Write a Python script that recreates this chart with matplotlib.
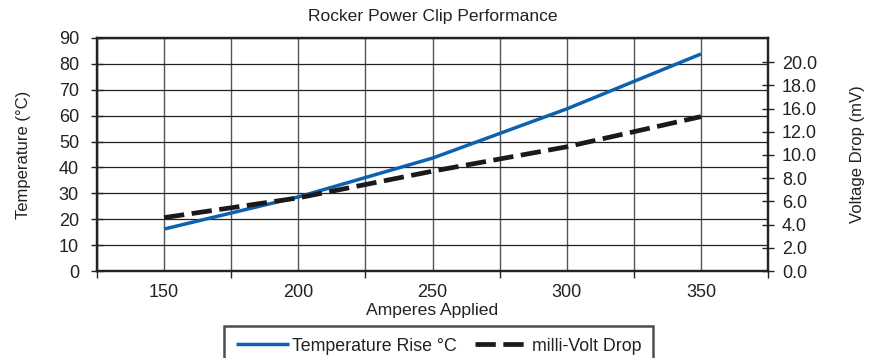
import numpy as np
import matplotlib
matplotlib.use('Agg')
import matplotlib.pyplot as plt
from matplotlib import font_manager

# data
amps = [150, 200, 250, 300, 350]
temp_rise = [16.2, 28.6, 43.6, 62.6, 83.8]
mv_drop = [4.6, 6.3, 8.6, 10.7, 13.3]  # in right-axis tick units

# right axis labels as printed (14.0 is missing in the original)
right_pos = [0, 2, 4, 6, 8, 10, 12, 14, 16, 18]
right_labels = ['0.0', '2.0', '4.0', '6.0', '8.0', '10.0', '12.0', '16.0', '18.0', '20.0']

names = {f.name for f in font_manager.fontManager.ttflist}
fam = 'Liberation Sans Narrow' if 'Liberation Sans Narrow' in names else 'Liberation Sans'
plt.rcParams['font.family'] = [fam, 'DejaVu Sans']
txt = '#222222'
blue = '#0d62b0'

fig = plt.figure(figsize=(8.7, 3.58), dpi=100)
ax = fig.add_axes([0.1115, 0.243, 0.7713, 0.651])
ax2 = ax.twinx()

ax.plot(amps, temp_rise, color=blue, lw=2.5, solid_capstyle='butt', zorder=3)
ax2.plot(amps, mv_drop, color='#1a1a1a', lw=3.4, dashes=(4.3, 1.6), zorder=3)

ax.set_xlim(125, 375)
ax.set_ylim(0, 90)
ax2.set_ylim(0, 20.08)

ax.set_yticks(np.arange(0, 91, 10))
ax.set_xticks([150, 200, 250, 300, 350])
ax.set_xticks([125, 175, 225, 275, 325, 375], minor=True)
ax.tick_params(axis='x', which='major', length=0, pad=9, labelsize=13, colors=txt)
ax.tick_params(axis='x', which='minor', length=5, width=1, direction='out', color=txt)
ax.tick_params(axis='y', direction='inout', length=8, width=1, labelsize=13, colors=txt, pad=9)

ax2.set_yticks(right_pos)
ax2.set_yticklabels(right_labels)
ax2.tick_params(axis='y', direction='inout', length=8, width=1, labelsize=13, colors=txt, pad=6)

ax.grid(True, which='both', axis='x', color='#555555', lw=1.0)
ax.grid(True, which='major', axis='y', color='#222222', lw=0.9)
ax.set_axisbelow(True)

for a in (ax, ax2):
    for s in a.spines.values():
        s.set_linewidth(1.6)
        s.set_color('#222222')

ax.set_title('Rocker Power Clip Performance', fontsize=12.6, color=txt, pad=12)
ax.set_xlabel('Amperes Applied', fontsize=12.6, color=txt, labelpad=2)
ax.set_ylabel('Temperature (°C)', fontsize=12, color=txt, labelpad=20)
ax2.set_ylabel('Voltage Drop (mV)', fontsize=12, color=txt, labelpad=24)

h1 = ax.get_lines()[0]
h2 = ax2.get_lines()[0]
leg = fig.legend([h1, h2], ['Temperature Rise °C', 'milli-Volt Drop'],
                 loc='upper center', bbox_to_anchor=(0.504, 0.0894), ncol=2,
                 fontsize=12.8, frameon=True, fancybox=False, handlelength=3.0,
                 handletextpad=0.2, columnspacing=1.0, borderpad=0.65,
                 borderaxespad=0)
leg.get_frame().set_edgecolor('#222222')
leg.get_frame().set_linewidth(1.8)
for t in leg.get_texts():
    t.set_color(txt)

fig.savefig('out.png', dpi=100)
